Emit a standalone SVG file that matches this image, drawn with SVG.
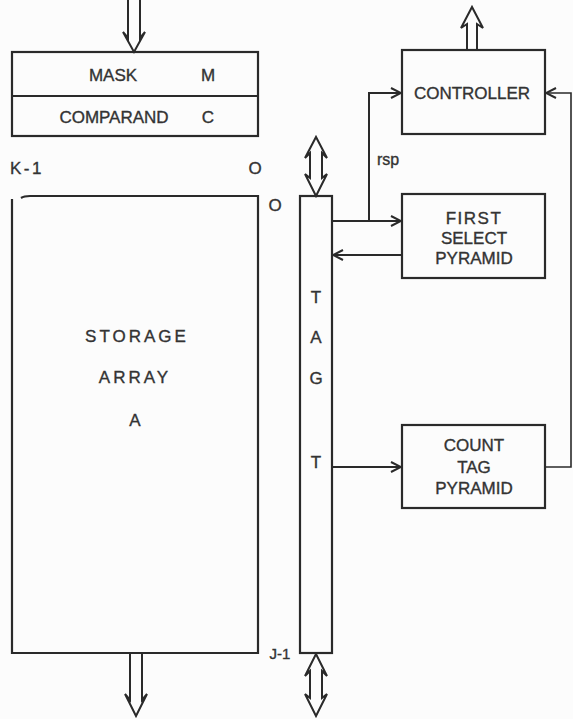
<svg xmlns="http://www.w3.org/2000/svg" width="573" height="719" viewBox="0 0 573 719">
<style>
.ln{fill:none;stroke:#2a2a2a;stroke-width:2;stroke-linejoin:miter}
.bx{fill:none;stroke:#2a2a2a;stroke-width:2.2}
.t{font-family:"Liberation Sans",Arial,sans-serif;font-size:17px;fill:#333;stroke:#333;stroke-width:0.35;text-anchor:middle;dominant-baseline:central}
.tb{font-family:"Liberation Sans",Arial,sans-serif;font-size:17px;fill:#333;stroke:#333;stroke-width:0.35;text-anchor:middle;dominant-baseline:central}
.ts{letter-spacing:3px}
</style>
<defs>
<marker id="ah" viewBox="0 0 12 12" refX="11" refY="6" markerWidth="12" markerHeight="12" markerUnits="userSpaceOnUse" orient="auto">
<path d="M1,1 L11,6 L1,11" fill="none" stroke="#2a2a2a" stroke-width="2"/>
</marker>
</defs>
<rect width="573" height="719" fill="#fcfcfc"/>

<g id="mask-comparand">
<rect class="bx" x="12" y="52" width="246" height="84"/>
<line class="ln" x1="12" y1="96" x2="258" y2="96"/>
<text class="t" x="113" y="75">MASK</text>
<text class="t" x="208" y="75">M</text>
<text class="t" x="114" y="117">COMPARAND</text>
<text class="t" x="208" y="117">C</text>
</g>

<g id="storage-array">
<path class="bx" d="M12,199 V653 H258 V196 H30 Q24,196 21,198"/>
<text class="t" x="27" y="168" style="letter-spacing:2.5px">K-1</text>
<text class="t" x="255" y="168">O</text>
<text class="t" x="275" y="205">O</text>
<text class="t" x="280" y="653" style="font-size:15px">J-1</text>
<text class="tb ts" x="137" y="336">STORAGE</text>
<text class="tb ts" x="135" y="377">ARRAY</text>
<text class="tb" x="135" y="420">A</text>
</g>

<g id="tag">
<rect class="bx" x="300" y="196" width="32" height="457"/>
<text class="tb" x="316" y="297">T</text>
<text class="tb" x="316" y="337">A</text>
<text class="tb" x="316" y="378">G</text>
<text class="tb" x="316" y="462">T</text>
</g>

<g id="controller">
<rect class="bx" x="402" y="50" width="143" height="84"/>
<text class="t" x="472" y="93">CONTROLLER</text>
</g>

<g id="first-select-pyramid">
<rect class="bx" x="402" y="194" width="143" height="84"/>
<text class="tb" x="474" y="218" style="letter-spacing:1.5px">FIRST</text>
<text class="tb" x="474" y="238">SELECT</text>
<text class="tb" x="474" y="258">PYRAMID</text>
</g>

<g id="count-tag-pyramid">
<rect class="bx" x="402" y="425" width="143" height="83"/>
<text class="tb" x="474" y="445">COUNT</text>
<text class="tb" x="474" y="467">TAG</text>
<text class="tb" x="474" y="488">PYRAMID</text>
</g>

<g id="connectors">
<path class="ln" d="M128,0 V38 L123,32 L134,52 L145,32 L140,38 V0"/>
<path class="ln" d="M130,653 V700 L125,694 L136,716 L147,694 L142,700 V653"/>
<path class="ln" d="M310,153 L305,158 L316,137 L327,158 L322,153 V178 L327,174 L316,196 L305,174 L310,178 Z"/>
<path class="ln" d="M310,671 L305,676 L316,654 L327,676 L322,671 V698 L327,694 L316,716 L305,694 L310,698 Z"/>
<path class="ln" d="M467,50 V24 L461,28 L472,7 L483,28 L477,24 V50"/>
<line class="ln" x1="332" y1="221" x2="401" y2="221" marker-end="url(#ah)"/>
<polyline class="ln" points="369,221 369,93 401,93" marker-end="url(#ah)"/>
<text class="t" x="388" y="159" style="font-size:16px">rsp</text>
<line class="ln" x1="402" y1="255" x2="333" y2="255" marker-end="url(#ah)"/>
<line class="ln" x1="332" y1="467" x2="401" y2="467" marker-end="url(#ah)"/>
<polyline class="ln" points="545,467 571,467 571,93 546,93" marker-end="url(#ah)" style="stroke-width:1.6"/>
</g>
</svg>
